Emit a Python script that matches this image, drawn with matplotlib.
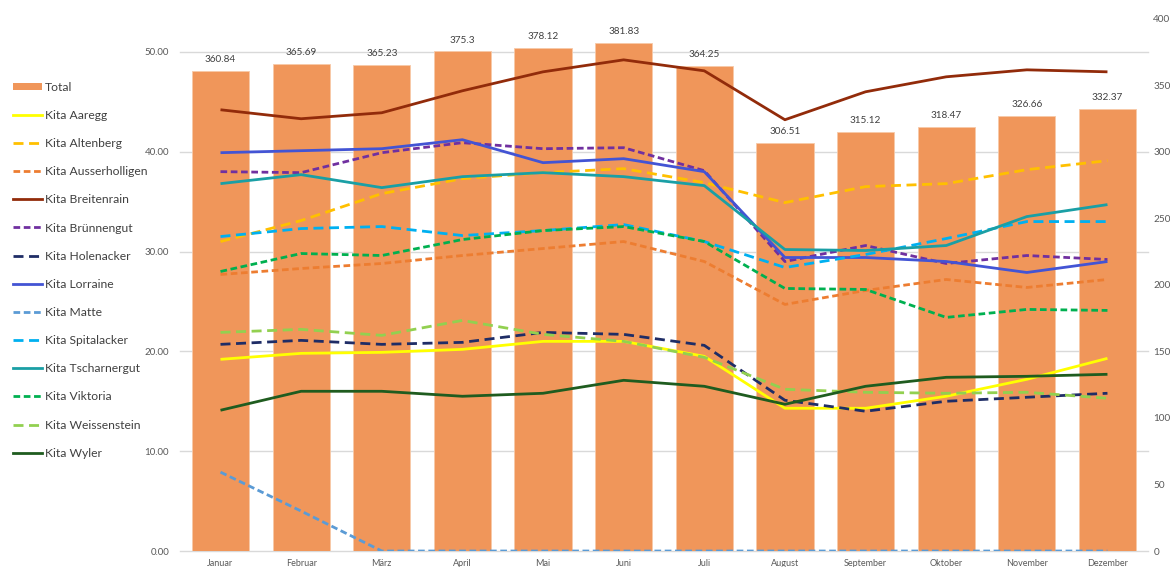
#!/usr/bin/env python3
"""Monthly totals (bars, right axis) and per-Kita values (lines, left axis)."""

import matplotlib.pyplot as plt
from matplotlib.patches import Patch
from matplotlib.lines import Line2D
from matplotlib.transforms import blended_transform_factory

months = ["Januar", "Februar", "März", "April", "Mai", "Juni", "Juli",
          "August", "September", "Oktober", "November", "Dezember"]

total = [360.84, 365.69, 365.23, 375.3, 378.12, 381.83, 364.25,
         306.51, 315.12, 318.47, 326.66, 332.37]

aaregg = [19.2, 19.8, 19.9, 20.2, 21.0, 21.0, 19.5, 14.3, 14.3, 15.5, 17.2, 19.3]
altenberg = [31.0, 33.1, 35.8, 37.3, 37.9, 38.3, 36.9, 34.9, 36.5, 36.8, 38.2, 39.1]
ausserholligen = [27.7, 28.3, 28.8, 29.6, 30.3, 31.0, 29.0, 24.7, 26.1, 27.2, 26.4, 27.2]
breitenrain = [44.2, 43.3, 43.9, 46.1, 48.0, 49.2, 48.1, 43.2, 46.0, 47.5, 48.2, 48.0]
bruennengut = [38.0, 37.9, 39.9, 40.9, 40.3, 40.4, 38.1, 29.0, 30.6, 28.8, 29.6, 29.2]
holenacker = [20.7, 21.1, 20.7, 20.9, 21.9, 21.7, 20.6, 15.1, 14.0, 15.0, 15.4, 15.8]
lorraine = [39.9, 40.1, 40.3, 41.2, 38.9, 39.3, 38.0, 29.4, 29.4, 29.0, 27.9, 29.0]
matte = [7.9, 4.0, 0, 0, 0, 0, 0, 0, 0, 0, 0, 0]
spitalacker = [31.5, 32.3, 32.5, 31.6, 32.1, 32.7, 31.0, 28.4, 29.7, 31.3, 33.0, 33.0]
tscharnergut = [36.8, 37.7, 36.4, 37.5, 37.9, 37.5, 36.6, 30.2, 30.1, 30.6, 33.5, 34.7]
viktoria = [28.0, 29.8, 29.6, 31.2, 32.1, 32.5, 31.0, 26.3, 26.2, 23.4, 24.2, 24.1]
weissenstein = [21.9, 22.2, 21.6, 23.1, 21.7, 21.0, 19.4, 16.2, 15.9, 15.8, 15.9, 15.3]
wyler = [14.1, 16.0, 16.0, 15.5, 15.8, 17.1, 16.5, 14.7, 16.5, 17.4, 17.5, 17.7]

LONG = (3.6, 2.0)
SHORT = (2.4, 1.3)
series = [
    ("Kita Aaregg", aaregg, "#FFFF00", None),
    ("Kita Altenberg", altenberg, "#FFC000", LONG),
    ("Kita Ausserholligen", ausserholligen, "#ED7D31", SHORT),
    ("Kita Breitenrain", breitenrain, "#922B0A", None),
    ("Kita Brünnengut", bruennengut, "#7030A0", SHORT),
    ("Kita Holenacker", holenacker, "#1F2D66", LONG),
    ("Kita Lorraine", lorraine, "#4354D4", None),
    ("Kita Matte", matte, "#5B9BD5", SHORT),
    ("Kita Spitalacker", spitalacker, "#00B0F0", LONG),
    ("Kita Tscharnergut", tscharnergut, "#1A9FA5", None),
    ("Kita Viktoria", viktoria, "#00B050", SHORT),
    ("Kita Weissenstein", weissenstein, "#92D050", LONG),
    ("Kita Wyler", wyler, "#1F5C1F", None),
]

BAR = "#F0965A"
TXT = "#404040"
TICK = "#595959"

plt.rcParams["font.family"] = ["Lato", "DejaVu Sans"]

fig = plt.figure(figsize=(11.7, 5.67), dpi=100)
# the top of the original chart is cropped, so the axes run past the figure top
axb = fig.add_axes([0.154, 0.0282, 0.827, 1.0564])
axl = axb.twinx()

x = list(range(len(months)))

# bars on the right-hand scale
bars = axb.bar(x, total, width=0.71, color=BAR, edgecolor="#F7C9A8",
               linewidth=0.6, zorder=2)
for rect, v in zip(bars, total):
    axb.annotate(f"{v:g}", (rect.get_x() + rect.get_width() / 2, v),
                 xytext=(0, 5), textcoords="offset points",
                 ha="center", va="bottom", fontsize=7.2, color=TXT)
axb.set_ylim(0, 450)
axb.set_yticks(range(0, 401, 50))
axb.yaxis.tick_right()
axb.tick_params(axis="y", length=0, labelsize=7.2, labelcolor=TICK, pad=4)

# gridlines follow the left scale but sit under the bars
grid_tr = blended_transform_factory(axb.transAxes, axl.transData)
for g in range(0, 51, 10):
    axb.plot([0, 1], [g, g], transform=grid_tr, color="#D9D9D9",
             lw=1.0, zorder=1, clip_on=False)

# lines on the left-hand scale
for name, vals, col, dash in series:
    kw = dict(color=col, lw=2.0, label=name, solid_capstyle="butt")
    if dash:
        kw["dashes"] = dash
    axl.plot(x, vals, **kw)
axl.set_ylim(0, 60)
axl.set_yticks(range(0, 51, 10))
axl.set_yticklabels([f"{t:.2f}" for t in range(0, 51, 10)])
axl.yaxis.tick_left()
axl.tick_params(axis="y", length=0, labelsize=7, labelcolor=TICK, pad=8)

axb.set_xlim(-0.5, len(months) - 0.5)
axb.set_xticks(x)
axb.set_xticklabels(months)
axb.tick_params(axis="x", length=0, labelsize=6.5, labelcolor=TICK, pad=6)

for a in (axb, axl):
    for s in a.spines.values():
        s.set_visible(False)

handles = [Patch(facecolor=BAR, label="Total")]
for name, vals, col, dash in series:
    h = Line2D([], [], color=col, lw=2.0, label=name)
    if dash:
        h.set_dashes(dash)
    handles.append(h)
fig.legend(handles=handles, loc="upper left", bbox_to_anchor=(0.002, 0.875),
           frameon=False, fontsize=8.7, labelcolor=TXT, handlelength=2.4,
           handleheight=0.6, handletextpad=0.25, labelspacing=1.42)

fig.savefig("out.png", dpi=100)
